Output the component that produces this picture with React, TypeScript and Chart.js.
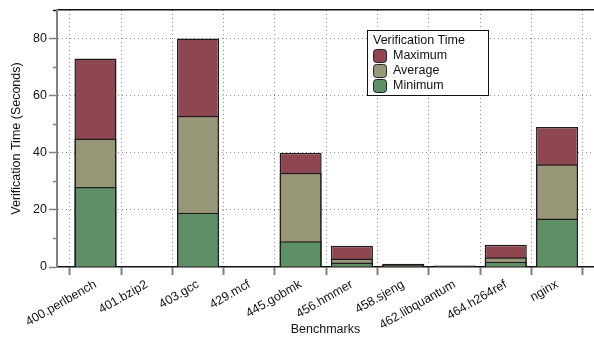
import { useEffect, useRef } from "react";
import { Chart, registerables } from "chart.js";

Chart.register(...registerables);

const categories = [
  "400.perlbench",
  "401.bzip2",
  "403.gcc",
  "429.mcf",
  "445.gobmk",
  "456.hmmer",
  "458.sjeng",
  "462.libquantum",
  "464.h264ref",
  "nginx",
];
const maximum = [73, 0.2, 80, 0.2, 40, 7.4, 1.1, 0.5, 7.8, 49];
const average = [45, 0.15, 53, 0.15, 33, 3.0, 0.8, 0.4, 3.4, 36];
const minimum = [28, 0.1, 19, 0.1, 9, 1.6, 0.6, 0.3, 1.8, 17];
const seriesNames = ["Maximum", "Average", "Minimum"];
const seriesColors = ["#8e4650", "#989878", "#5e9068"];
const legendTitle = "Verification Time";
const yTitle = "Verification Time (Seconds)";
const xTitle = "Benchmarks";
const yMin = 0;
const yMax = 90;
const yStep = 10;
const yLabelStep = 20;

const FONT = '"Liberation Sans", Arial, Helvetica, sans-serif';

const legendPlugin = {
  id: "boxLegend",
  afterDatasetsDraw(chart: any) {
    const ctx = chart.ctx as CanvasRenderingContext2D;
    const ca = chart.chartArea;
    const x0 = ca.left + 310;
    const y0 = ca.top + 20;
    const w = 121;
    const h = 65;
    ctx.save();
    ctx.fillStyle = "#ffffff";
    ctx.fillRect(x0, y0, w, h);
    ctx.strokeStyle = "#111";
    ctx.lineWidth = 1;
    ctx.setLineDash([]);
    ctx.strokeRect(x0 + 0.5, y0 + 0.5, w, h);
    ctx.font = `12.5px ${FONT}`;
    ctx.fillStyle = "#111";
    ctx.textBaseline = "middle";
    ctx.textAlign = "left";
    ctx.fillText(legendTitle, x0 + 6, y0 + 11);
    seriesNames.forEach((name, i) => {
      const sy = y0 + 19.5 + i * 15;
      ctx.beginPath();
      (ctx as any).roundRect(x0 + 6.5, sy, 13, 13, 3);
      ctx.fillStyle = seriesColors[i];
      ctx.fill();
      ctx.strokeStyle = "#222";
      ctx.lineWidth = 1;
      ctx.stroke();
      ctx.fillStyle = "#111";
      ctx.fillText(name, x0 + 26, sy + 6.5);
    });
    ctx.restore();
  },
};

export default function App() {
  const ref = useRef<HTMLCanvasElement | null>(null);

  useEffect(() => {
    document.body.style.margin = "0";
    if (!ref.current) return;
    const values = [maximum, average, minimum];
    const boundaries = categories.map((_, i) => i - 0.5).concat([categories.length - 0.5]);
    const chart = new Chart(ref.current, {
      type: "bar",
      data: {
        datasets: values.map((arr, k) => ({
          label: seriesNames[k],
          data: arr.map((v, i) => ({ x: i, y: v })),
          backgroundColor: seriesColors[k],
          borderColor: "#1c1c1c",
          borderWidth: 1.5,
          grouped: false,
          order: 3 - k,
          barPercentage: 1.64,
          categoryPercentage: 1,
          xAxisID: "x",
          yAxisID: "y",
        })),
      },
      options: {
        animation: false,
        responsive: false,
        devicePixelRatio: 1,
        layout: { padding: { top: 10, right: 0, left: 0, bottom: 0 } },
        plugins: {
          legend: { display: false },
          tooltip: { enabled: false },
        },
        scales: {
          x: {
            type: "linear",
            position: "bottom",
            min: -0.75,
            max: 9.72,
            offset: false,
            afterFit: (s: any) => {
              s.height = 72;
            },
            afterBuildTicks: (s: any) => {
              const t: any[] = [];
              boundaries.forEach((b, i) => {
                t.push({ value: b });
                if (i < categories.length) t.push({ value: i });
              });
              s.ticks = t;
            },
            ticks: {
              autoSkip: false,
              minRotation: 30,
              maxRotation: 30,
              padding: 2,
              color: "#111",
              font: { family: FONT, size: 12.5 },
              callback: (v: any) => {
                const n = Number(v);
                return Number.isInteger(n) ? categories[n] : "";
              },
            },
            grid: {
              offset: false,
              lineWidth: 1,
              color: (c: any) =>
                c.tick && !Number.isInteger(c.tick.value) ? "#8a8a8a" : "rgba(0,0,0,0)",
              tickColor: (c: any) =>
                c.tick && !Number.isInteger(c.tick.value) ? "#808080" : "rgba(0,0,0,0)",
              tickLength: 8,
              tickWidth: 2,
            },
            border: { display: true, color: "#111", width: 1.5, dash: [1, 3] },
            title: {
              display: true,
              text: xTitle,
              color: "#111",
              font: { family: FONT, size: 12.5 },
              padding: { top: 0, bottom: 2 },
            },
          },
          xTop: {
            type: "linear",
            position: "top",
            min: -0.75,
            max: 9.72,
            offset: false,
            afterFit: (s: any) => {
              s.height = 0;
            },
            ticks: { display: false },
            grid: { display: false, drawTicks: false, offset: false },
            border: { display: true, color: "#111", width: 1.5 },
          },
          y: {
            type: "linear",
            position: "left",
            min: yMin,
            max: yMax,
            afterFit: (s: any) => {
              s.width = 57;
            },
            ticks: {
              stepSize: yStep,
              padding: 2,
              color: "#111",
              font: { family: FONT, size: 12.5 },
              callback: (v: any) => (Number(v) % yLabelStep === 0 ? String(v) : ""),
            },
            grid: {
              lineWidth: 1,
              color: (c: any) =>
                c.tick && c.tick.value % yLabelStep === 0 && c.tick.value !== 0
                  ? "#8a8a8a"
                  : "rgba(0,0,0,0)",
              tickColor: (c: any) =>
                c.tick && c.tick.value % yLabelStep === 0 ? "#808080" : "rgba(0,0,0,0)",
              tickLength: 8,
              tickWidth: 1.5,
            },
            border: { display: true, color: "#808080", width: 2, dash: [1, 3] },
            title: {
              display: true,
              text: yTitle,
              color: "#111",
              font: { family: FONT, size: 12.5 },
              padding: { top: 9, bottom: 0 },
            },
          },
          yMinor: {
            type: "linear",
            axis: "y",
            position: { x: -0.75 },
            min: yMin,
            max: yMax,
            ticks: { display: false, stepSize: yStep },
            grid: {
              drawOnChartArea: false,
              tickLength: 4,
              tickWidth: 1.5,
              tickColor: (c: any) =>
                c.tick && c.tick.value === yMax
                  ? "#111"
                  : c.tick && c.tick.value % yLabelStep !== 0
                  ? "#808080"
                  : "rgba(0,0,0,0)",
            },
            border: { display: false },
          },
        } as any,
      },
      plugins: [legendPlugin],
    });
    return () => chart.destroy();
  }, []);

  return (
    <div style={{ width: 594, height: 339 }}>
      <canvas ref={ref} width={594} height={339} style={{ display: "block" }} />
    </div>
  );
}
